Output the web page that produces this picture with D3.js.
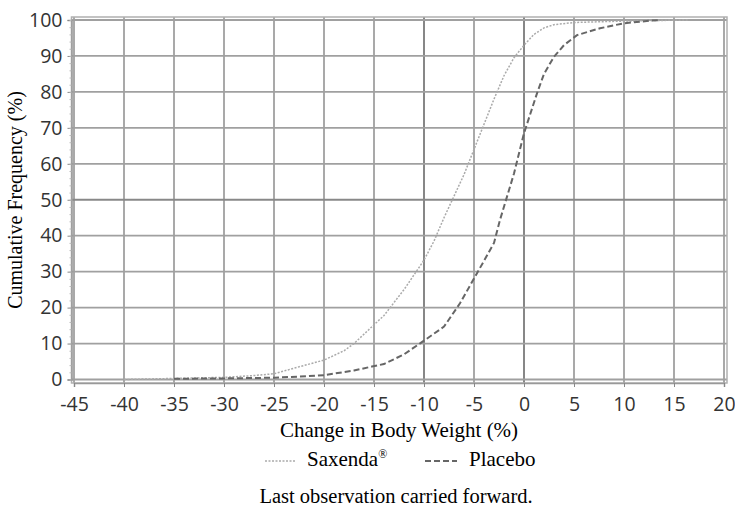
<!DOCTYPE html>
<html>
<head>
<meta charset="utf-8">
<script src="https://cdn.jsdelivr.net/npm/d3@7"></script>
<style>
  body { margin: 0; background: #fff; }
  svg { display: block; }
</style>
</head>
<body>
<div class="chart"></div>
<script>
// cumulative distribution
const saxendaX = [-40, -35, -30, -27, -25, -22.4, -20, -18, -17, -15.2, -14, -12, -10, -9, -8, -7, -6, -5, -4, -3, -2, -1, 0, 1, 2, 3, 5, 10, 16.5]
const saxendaY = [0, 0.3, 0.6, 1.1, 1.6, 3.6, 5.4, 8, 10, 14.7, 17.8, 25, 33.2, 38.5, 45, 51, 57, 64, 71, 78, 84.5, 89.5, 93, 96, 97.8, 98.7, 99.3, 99.7, 100]

const placeboX = [-35, -30, -25, -22.4, -20, -17, -15.2, -14, -12, -10, -8, -6.4, -5, -4, -3, -2.4, -1, 0, 1.3, 2, 3, 4, 5.3, 7.6, 10, 12.6, 13.6]
const placeboY = [0.2, 0.3, 0.5, 0.8, 1.2, 2.5, 3.6, 4.3, 7, 10.8, 14.7, 21.2, 28.1, 33, 38, 44.4, 57.3, 68.5, 79.6, 85, 89.8, 93, 95.8, 97.7, 99.1, 99.8, 100]

const xTicks = [-45, -40, -35, -30, -25, -20, -15, -10, -5, 0, 5, 10, 15, 20]
const yTicks = [0, 10, 20, 30, 40, 50, 60, 70, 80, 90, 100]

const svg = d3.select('.chart').append('svg')
  .attr('width', 735).attr('height', 510)

const x = d3.scaleLinear().domain([-45, 20]).range([74, 724])
const y = d3.scaleLinear().domain([0, 100]).range([379.5, 20])

const sans = '"Open Sans", sans-serif'
const serif = '"Liberation Serif", "Times New Roman", serif'

// grid
svg.selectAll('.vgrid').data(xTicks).enter().append('line')
  .attr('x1', d => x(d)).attr('x2', d => x(d))
  .attr('y1', 17).attr('y2', 383)
  .attr('stroke', d => (d == 0 || d == -10) ? '#7a7a7a' : '#a0a0a0')
  .attr('stroke-width', 1.8)

svg.selectAll('.hgrid').data(yTicks).enter().append('line')
  .attr('x1', 72).attr('x2', 727)
  .attr('y1', d => y(d)).attr('y2', d => y(d))
  .attr('stroke', d => d == 50 ? '#888' : '#a0a0a0')
  .attr('stroke-width', 1.8)

// frame
svg.append('rect')
  .attr('x', 71.5).attr('y', 17).attr('width', 655.5).attr('height', 366)
  .attr('fill', 'none').attr('stroke', '#b0b0b0').attr('stroke-width', 1.5)

// axes
const yAxis = svg.append('g').attr('transform', 'translate(71.5,0)')
  .call(d3.axisLeft(y).tickValues(yTicks).tickSize(4).tickPadding(5))
yAxis.select('.domain').attr('stroke', '#999').attr('stroke-width', 1.5)
yAxis.selectAll('.tick line').attr('stroke', '#888')
yAxis.selectAll('.tick text').attr('font-family', sans).attr('font-size', 19.5).attr('fill', '#333')

svg.append('g').attr('transform', 'translate(71.5,0)')
  .call(d3.axisLeft(y).tickValues(d3.range(0, 101, 2)).tickSize(2).tickFormat(''))
  .call(g => g.select('.domain').remove())
  .selectAll('line').attr('stroke', '#bbb')

const xAxis = svg.append('g').attr('transform', 'translate(0,383)')
  .call(d3.axisBottom(x).tickValues(xTicks).tickSize(4).tickPadding(10).tickFormat(d => String(d)))
xAxis.select('.domain').attr('stroke', '#999').attr('stroke-width', 1.5)
xAxis.selectAll('.tick line').attr('stroke', '#888')
xAxis.selectAll('.tick text').attr('font-family', sans).attr('font-size', 19.5).attr('fill', '#333')

// curves
const line = d3.line().x(d => x(d[0])).y(d => y(d[1]))

svg.append('path')
  .datum(d3.zip(saxendaX, saxendaY))
  .attr('d', line)
  .attr('fill', 'none').attr('stroke', '#aaa').attr('stroke-width', 1.5)
  .attr('stroke-dasharray', '2,1.5')

svg.append('path')
  .datum(d3.zip(placeboX, placeboY))
  .attr('d', line)
  .attr('fill', 'none').attr('stroke', '#666').attr('stroke-width', 2)
  .attr('stroke-dasharray', '6,3')

// titles
svg.append('text').text('Cumulative Frequency (%)')
  .attr('transform', 'translate(22,200) rotate(-90)')
  .attr('text-anchor', 'middle').attr('font-family', serif).attr('font-size', 20)

svg.append('text').text('Change in Body Weight (%)')
  .attr('x', 399).attr('y', 437)
  .attr('text-anchor', 'middle').attr('font-family', serif).attr('font-size', 21)

// legend
svg.append('line').attr('x1', 265).attr('x2', 295).attr('y1', 461).attr('y2', 461)
  .attr('stroke', '#aaa').attr('stroke-width', 1.5).attr('stroke-dasharray', '2,1.5')
const sx = svg.append('text').attr('x', 307).attr('y', 466)
  .attr('font-family', serif).attr('font-size', 21)
sx.append('tspan').text('Saxenda')
sx.append('tspan').text('®').attr('font-size', 12).attr('dy', -8)

svg.append('line').attr('x1', 425).attr('x2', 457).attr('y1', 461).attr('y2', 461)
  .attr('stroke', '#666').attr('stroke-width', 2).attr('stroke-dasharray', '6,3')
svg.append('text').text('Placebo').attr('x', 469).attr('y', 466)
  .attr('font-family', serif).attr('font-size', 21)

svg.append('text').text('Last observation carried forward.')
  .attr('x', 396).attr('y', 503)
  .attr('text-anchor', 'middle').attr('font-family', serif).attr('font-size', 20.5)
</script>
</body>
</html>
